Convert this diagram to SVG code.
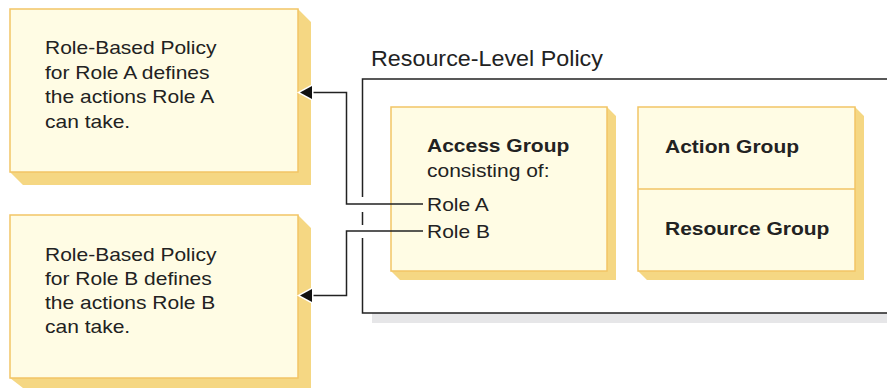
<svg xmlns="http://www.w3.org/2000/svg" width="887" height="389" viewBox="0 0 887 389">
<defs>
<linearGradient id="shR" x1="0" y1="0" x2="1" y2="0">
<stop offset="0" stop-color="#fbe7a4"/>
<stop offset="1" stop-color="#f0c968"/>
</linearGradient>
<linearGradient id="shB" x1="0" y1="0" x2="0" y2="1">
<stop offset="0" stop-color="#fbe7a4"/>
<stop offset="1" stop-color="#f0c968"/>
</linearGradient>
</defs>
<style>
.front{fill:#fffce4;stroke:#f2c566;stroke-width:1.5}
.shadow{fill:#f5d783}
.t{font-family:"Liberation Sans",Arial,sans-serif;font-size:17.5px;fill:#222}
.b{font-weight:bold}
.title{font-family:"Liberation Sans",Arial,sans-serif;font-size:22px;fill:#222}
.ln{fill:none;stroke:#222;stroke-width:1.5}
.ah{fill:#111;stroke:#fff;stroke-width:3;paint-order:stroke}
</style>

<g id="policyA">
<polygon class="shadow" points="298,9 311,22 311,185 23,185 10,172 298,172"/>
<rect class="front" x="10" y="9" width="288" height="163"/>
<text class="t" transform="matrix(1.2 0 0 1 45 54)"><tspan x="0" y="0">Role-Based Policy</tspan><tspan x="0" y="25">for Role A defines</tspan><tspan x="0" y="49">the actions Role A</tspan><tspan x="0" y="74">can take.</tspan></text>
</g>

<g id="policyB">
<polygon class="shadow" points="298,215 311,228 311,388 23,388 10,378 298,378"/>
<rect class="front" x="10" y="215" width="288" height="163"/>
<text class="t" transform="matrix(1.2 0 0 1 45 261)"><tspan x="0" y="0">Role-Based Policy</tspan><tspan x="0" y="24">for Role B defines</tspan><tspan x="0" y="48">the actions Role B</tspan><tspan x="0" y="72">can take.</tspan></text>
</g>

<g id="resourcePolicy">
<rect x="372" y="313" width="520" height="10" fill="#e6e6e8"/>
<text class="title" transform="matrix(1.06 0 0 1 371 66)">Resource-Level Policy</text>
<path class="ln" d="M888,79 H362.5 V197 M362.5,212 V225 M362.5,238 V313 H888"/>
</g>

<g id="accessGroup">
<polygon class="shadow" points="607,107 616,116 616,280 400,280 391,271 607,271"/>
<rect class="front" x="391" y="107" width="216" height="164"/>
<text class="t b" transform="matrix(1.2 0 0 1 427 152)">Access Group</text>
<text class="t" transform="matrix(1.2 0 0 1 427 177)">consisting of:</text>
<text class="t" transform="matrix(1.2 0 0 1 427 211)">Role A</text>
<text class="t" transform="matrix(1.2 0 0 1 427 238)">Role B</text>
</g>

<g id="actionResourceGroup">
<polygon class="shadow" points="855,107 864,116 864,280 647,280 638,271 855,271"/>
<rect class="front" x="638" y="107" width="217" height="164"/>
<line x1="638" y1="189" x2="855" y2="189" stroke="#f2c566" stroke-width="1.5"/>
<text class="t b" transform="matrix(1.2 0 0 1 665 153)">Action Group</text>
<text class="t b" transform="matrix(1.2 0 0 1 665 235)">Resource Group</text>
</g>

<g id="connectors">
<path class="ln" d="M423,204 H346.5 V92.5 H310"/>
<polygon class="ah" points="300,92.5 312,86 312,99"/>
<path class="ln" d="M423,231 H346.5 V295.5 H310"/>
<polygon class="ah" points="300,295.5 312,289 312,302"/>
</g>
</svg>
